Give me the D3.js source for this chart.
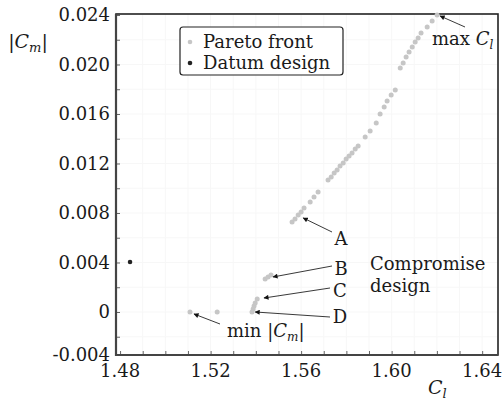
<!DOCTYPE html>
<html>
<head>
<meta charset="utf-8">
<script src="https://cdn.jsdelivr.net/npm/d3@7"></script>
<style>
  body { margin: 0; background: #fff; }
  text { font-family: "DejaVu Serif", serif; fill: #1a1a1a; }
</style>
</head>
<body>
<svg id="chart" width="502" height="403"></svg>
<script>
// Pareto front, lift coefficient vs |moment coefficient|
var paretoCl = [1.5109, 1.5229, 1.5383, 1.5388, 1.5392, 1.5397, 1.5406,
  1.5441, 1.5454, 1.5467,
  1.5560, 1.5573, 1.5587, 1.5600, 1.5613, 1.5640, 1.5657, 1.5675,
  1.5719, 1.5733, 1.5746, 1.5759, 1.5772, 1.5786, 1.5799, 1.5812, 1.5825, 1.5839, 1.5852,
  1.5883, 1.5905, 1.5932, 1.5949, 1.5967, 1.5980, 1.5998, 1.6016,
  1.6038, 1.6051, 1.6064, 1.6077, 1.6091, 1.6104, 1.6117, 1.6130, 1.6157, 1.6179, 1.6201];
var paretoCm = [0.0000, 0.0000, 0.0000, 0.00024, 0.00048, 0.00073, 0.00105,
  0.00267, 0.00283, 0.00299,
  0.00727, 0.00751, 0.00784, 0.00808, 0.00840, 0.00889, 0.00929, 0.00970,
  0.01067, 0.01091, 0.01123, 0.01147, 0.01180, 0.01204, 0.01236, 0.01260, 0.01285, 0.01317, 0.01341,
  0.01414, 0.01462, 0.01527, 0.01600, 0.01656, 0.01705, 0.01753, 0.01794,
  0.01972, 0.02012, 0.02060, 0.02101, 0.02141, 0.02182, 0.02214, 0.02254, 0.02303, 0.02351, 0.02400];
var datumCl = [1.4844];
var datumCm = [0.00404];

var xTicks = [1.48, 1.52, 1.56, 1.60, 1.64];
var xTickLabels = ["1.48", "1.52", "1.56", "1.60", "1.64"];
var yTicks = [-0.004, 0, 0.004, 0.008, 0.012, 0.016, 0.020, 0.024];
var yTickLabels = ["-0.004", "0", "0.004", "0.008", "0.012", "0.016", "0.020", "0.024"];

// annotated designs: label and the design it points at
var annLabels = ["A", "B", "C", "D"];
var annCl = [1.5609, 1.5476, 1.5436, 1.5397];
var annCm = [0.00760, 0.00283, 0.00113, 0.0000];

var svg = d3.select("#chart");

var x = d3.scaleLinear().domain([1.4782, 1.6470]).range([116, 498]);
var y = d3.scaleLinear().domain([-0.003475, 0.02408]).range([355, 14]).clamp(true);

var defs = svg.append("defs");
defs.append("marker")
    .attr("id", "arr")
    .attr("viewBox", "0 0 10 10")
    .attr("refX", 9).attr("refY", 5)
    .attr("markerWidth", 6).attr("markerHeight", 5)
    .attr("markerUnits", "userSpaceOnUse")
    .attr("orient", "auto")
  .append("path")
    .attr("d", "M0,0 L10,5 L0,10 Z")
    .attr("fill", "#111");

// faint grid
var gGrid = svg.append("g");
d3.range(1.49, 1.646, 0.01).forEach(function(v) {
  gGrid.append("line").attr("x1", x(v)).attr("x2", x(v)).attr("y1", 14).attr("y2", 355)
    .attr("stroke", "#f7f7f7").attr("stroke-width", 1);
});
d3.range(-0.002, 0.0235, 0.002).forEach(function(v) {
  gGrid.append("line").attr("x1", 116).attr("x2", 498).attr("y1", y(v)).attr("y2", y(v))
    .attr("stroke", "#f7f7f7").attr("stroke-width", 1);
});

// axes with inward ticks
var xAxis = d3.axisBottom(x).tickValues(d3.range(1.48, 1.646, 0.01)).tickSize(-4).tickFormat("");
var yAxis = d3.axisLeft(y).tickValues(d3.range(-0.002, 0.0241, 0.002)).tickSize(-4).tickFormat("");
svg.append("g").attr("transform", "translate(0,355)").call(xAxis)
   .call(function(g) { g.select(".domain").remove(); g.selectAll("line").attr("stroke", "#666"); });
svg.append("g").attr("transform", "translate(116,0)").call(yAxis)
   .call(function(g) { g.select(".domain").remove(); g.selectAll("line").attr("stroke", "#666"); });

// frame
svg.append("rect").attr("x", 116).attr("y", 14).attr("width", 382).attr("height", 341)
   .attr("fill", "none").attr("stroke", "#222").attr("stroke-width", 1.6);
svg.append("line").attr("x1", 116).attr("x2", 116).attr("y1", 14).attr("y2", 356)
   .attr("stroke", "#444").attr("stroke-width", 2.2);
svg.append("line").attr("x1", 115).attr("x2", 498).attr("y1", 355).attr("y2", 355)
   .attr("stroke", "#444").attr("stroke-width", 2.2);

// tick labels
svg.append("g").selectAll("text").data(xTicks).join("text")
   .attr("x", function(d) { return x(d); }).attr("y", 377)
   .attr("text-anchor", "middle").attr("font-size", 18)
   .text(function(d, i) { return xTickLabels[i]; });
svg.append("g").selectAll("text").data(yTicks).join("text")
   .attr("x", 110).attr("y", function(d) { return y(d); }).attr("dy", "0.36em")
   .attr("text-anchor", "end").attr("font-size", 18)
   .text(function(d, i) { return yTickLabels[i]; });

// axis titles
var yt = svg.append("text").attr("x", 28).attr("y", 48).attr("text-anchor", "middle").attr("font-size", 19);
yt.append("tspan").text("|");
yt.append("tspan").attr("font-style", "italic").text("C");
yt.append("tspan").attr("font-style", "italic").attr("font-size", 13).attr("dy", 4).text("m");
yt.append("tspan").attr("dy", -4).text("|");

var xt = svg.append("text").attr("x", 428).attr("y", 394).attr("font-size", 19);
xt.append("tspan").attr("font-style", "italic").text("C");
xt.append("tspan").attr("font-style", "italic").attr("font-size", 13).attr("dy", 4).text("l");

// points
var pareto = paretoCl.map(function(v, i) { return [v, paretoCm[i]]; });
svg.append("g").selectAll("circle").data(pareto).join("circle")
   .attr("cx", function(d) { return x(d[0]); })
   .attr("cy", function(d) { return y(d[1]); })
   .attr("r", 2.5).attr("fill", "#c6c6c6");
var datum = datumCl.map(function(v, i) { return [v, datumCm[i]]; });
svg.append("g").selectAll("circle").data(datum).join("circle")
   .attr("cx", function(d) { return x(d[0]); })
   .attr("cy", function(d) { return y(d[1]); })
   .attr("r", 2.3).attr("fill", "#222");

// annotations A-D
var tails = [[332, 232], [332, 266], [330, 288], [330, 317]];
var labelPos = [[341, 245], [341, 275], [340, 297], [340, 323]];
annLabels.forEach(function(l, i) {
  svg.append("line")
     .attr("x1", tails[i][0]).attr("y1", tails[i][1])
     .attr("x2", x(annCl[i])).attr("y2", y(annCm[i]))
     .attr("stroke", "#222").attr("stroke-width", 0.9)
     .attr("marker-end", "url(#arr)");
  svg.append("text").attr("x", labelPos[i][0]).attr("y", labelPos[i][1])
     .attr("text-anchor", "middle").attr("font-size", 18).text(l);
});

// min |Cm|
svg.append("line").attr("x1", 220).attr("y1", 324)
   .attr("x2", x(paretoCl[0]) + 4).attr("y2", y(paretoCm[0]) + 2)
   .attr("stroke", "#222").attr("stroke-width", 0.9).attr("marker-end", "url(#arr)");
var mn = svg.append("text").attr("x", 227).attr("y", 337).attr("font-size", 18);
mn.append("tspan").text("min |");
mn.append("tspan").attr("font-style", "italic").text("C");
mn.append("tspan").attr("font-style", "italic").attr("font-size", 12).attr("dy", 4).text("m");
mn.append("tspan").attr("dy", -4).text("|");

// max Cl
var last = paretoCl.length - 1;
svg.append("line").attr("x1", 465).attr("y1", 27)
   .attr("x2", x(paretoCl[last]) + 3).attr("y2", y(paretoCm[last]) + 1)
   .attr("stroke", "#222").attr("stroke-width", 0.9).attr("marker-end", "url(#arr)");
var mx = svg.append("text").attr("x", 432).attr("y", 45).attr("font-size", 18);
mx.append("tspan").text("max ");
mx.append("tspan").attr("font-style", "italic").text("C");
mx.append("tspan").attr("font-style", "italic").attr("font-size", 12).attr("dy", 4).text("l");

// compromise design note
svg.append("text").attr("x", 370).attr("y", 270).attr("font-size", 18).text("Compromise");
svg.append("text").attr("x", 370).attr("y", 292).attr("font-size", 18).text("design");

// legend
svg.append("rect").attr("x", 180).attr("y", 27).attr("width", 163).attr("height", 48)
   .attr("rx", 3).attr("fill", "#fff").attr("stroke", "#222").attr("stroke-width", 1.2);
var legendNames = ["Pareto front", "Datum design"];
var legendColors = ["#c6c6c6", "#222"];
legendNames.forEach(function(n, i) {
  svg.append("circle").attr("cx", 190).attr("cy", 42 + i * 21).attr("r", 2.3).attr("fill", legendColors[i]);
  svg.append("text").attr("x", 203).attr("y", 48 + i * 21).attr("font-size", 18).text(n);
});
</script>
</body>
</html>
